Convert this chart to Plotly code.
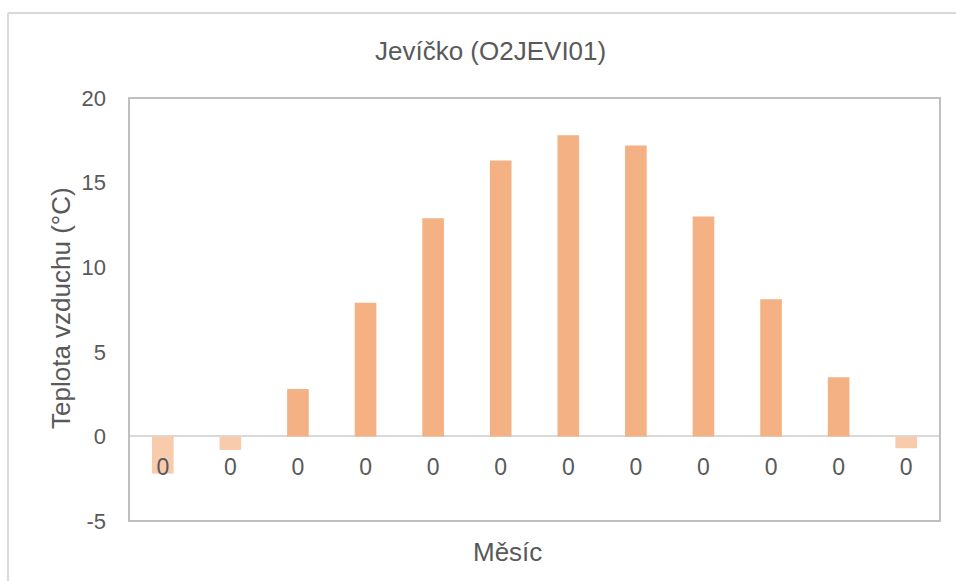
import plotly.graph_objects as go

# Monthly mean air temperature, station Jevíčko (O2JEVI01)
months = ["1", "2", "3", "4", "5", "6", "7", "8", "9", "10", "11", "12"]
month_labels = ["0"] * 12
temperature = [-2.2, -0.8, 2.8, 7.9, 12.9, 16.3, 17.8, 17.2, 13.0, 8.1, 3.5, -0.7]
y_ticks = [-5, 0, 5, 10, 15, 20]
y_tick_labels = ["-5", "0", "5", "10", "15", "20"]

POS_COLOR = "#F4B183"
NEG_COLOR = "#F8CBAD"
TEXT_COLOR = "#595959"
FONT = "Liberation Sans, Arial, sans-serif"

bar_colors = [POS_COLOR if v >= 0 else NEG_COLOR for v in temperature]

W, H = 956, 581
ML, MR, MT, MB = 129, 16, 98, 60
pw, ph = W - ML - MR, H - MT - MB
y_min, y_max = -5, 20


def px_x(px):
    return (px - ML) / pw


def px_y(py):
    return (H - MB - py) / ph


fig = go.Figure(
    go.Bar(
        x=months,
        y=temperature,
        marker=dict(color=bar_colors, line=dict(width=0)),
        width=0.32,
        hoverinfo="x+y",
    )
)

fig.update_layout(
    width=W,
    height=H,
    margin=dict(l=ML, r=MR, t=MT, b=MB),
    paper_bgcolor="white",
    plot_bgcolor="white",
    showlegend=False,
    font=dict(family=FONT, color=TEXT_COLOR, size=22),
    xaxis=dict(
        type="category",
        tickmode="array",
        tickvals=months,
        ticktext=month_labels,
        anchor="free",
        position=(0 - y_min) / (y_max - y_min),
        showline=False,
        showgrid=False,
        ticks="",
        ticklabelstandoff=15,
        tickfont=dict(size=23, color=TEXT_COLOR),
        fixedrange=True,
    ),
    yaxis=dict(
        range=[y_min, y_max],
        tickmode="array",
        tickvals=y_ticks,
        ticktext=y_tick_labels,
        showgrid=False,
        zeroline=True,
        zerolinecolor="#D9D9D9",
        zerolinewidth=2,
        showline=False,
        ticks="",
        ticklabelstandoff=22,
        tickfont=dict(size=22, color=TEXT_COLOR),
        fixedrange=True,
    ),
    shapes=[
        # plot area frame
        dict(type="rect", xref="paper", yref="paper", x0=0, x1=1, y0=0, y1=1,
             line=dict(color="#BFBFBF", width=2), layer="above"),
        # chart area frame (top and left edges)
        dict(type="line", xref="paper", yref="paper",
             x0=px_x(8), x1=px_x(960), y0=px_y(13), y1=px_y(13),
             line=dict(color="#D9D9D9", width=2)),
        dict(type="line", xref="paper", yref="paper",
             x0=px_x(8), x1=px_x(8), y0=px_y(13), y1=px_y(590),
             line=dict(color="#D9D9D9", width=2)),
    ],
    annotations=[
        dict(text="Jevíčko (O2JEVI01)", xref="paper", yref="paper",
             x=px_x(490), y=px_y(51), showarrow=False,
             xanchor="center", yanchor="middle",
             font=dict(size=26, color=TEXT_COLOR)),
        dict(text="Teplota vzduchu (°C)", xref="paper", yref="paper",
             x=px_x(61), y=px_y(308), showarrow=False, textangle=-90,
             xanchor="center", yanchor="middle",
             font=dict(size=26, color=TEXT_COLOR)),
        dict(text="Měsíc", xref="paper", yref="paper",
             x=px_x(507), y=px_y(552), showarrow=False,
             xanchor="center", yanchor="middle",
             font=dict(size=26, color=TEXT_COLOR)),
    ],
)

fig.write_html("out.html")
